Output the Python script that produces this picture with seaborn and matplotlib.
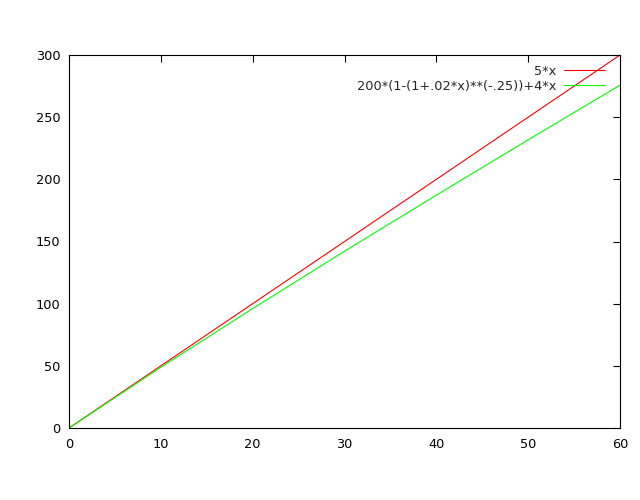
import matplotlib
matplotlib.use('Agg')
import matplotlib.pyplot as plt
import seaborn as sns
import pandas as pd

x_vals = [0, 10, 20, 30, 40, 50, 60]
red_vals = [0, 50, 100, 150, 200, 250, 300]
green_vals = [0, 48.9, 96.1, 142.2, 187.3, 231.8, 275.8]
labels = ['5*x', '200*(1-(1+.02*x)**(-.25))+4*x']
colors = ['#ff0000', '#00ff00']
xticks = [0, 10, 20, 30, 40, 50, 60]
yticks = [0, 50, 100, 150, 200, 250, 300]

sns.set_theme(style='white')
plt.rcParams['font.family'] = ['DejaVu Sans']
plt.rcParams['font.size'] = 9.3

df = pd.DataFrame({
    'x': x_vals + x_vals,
    'y': red_vals + green_vals,
    'f': [labels[0]] * len(x_vals) + [labels[1]] * len(x_vals),
})

fig = plt.figure(figsize=(6.4, 5.0), dpi=100)
ax = fig.add_axes([69 / 640, 72 / 500, 551 / 640, 373 / 500])
sns.lineplot(data=df, x='x', y='y', hue='f', palette=colors, lw=0.8, ax=ax, legend=True)

ax.set_xlim(0, 60)
ax.set_ylim(0, 300)
ax.set_xticks(xticks)
ax.set_yticks(yticks)
ax.set_xlabel('')
ax.set_ylabel('')
for s in ax.spines.values():
    s.set_visible(True)
    s.set_color('black')
    s.set_linewidth(0.8)
ax.tick_params(direction='in', length=5, width=0.8, top=True, right=True,
               colors='black', labelsize=9.3)
ax.tick_params(axis='x', pad=7)
ax.tick_params(axis='y', pad=6)

leg = ax.legend(loc='upper right', frameon=False, markerfirst=False,
                handlelength=3.2, handletextpad=0.6, labelspacing=0.18,
                borderpad=0, borderaxespad=0,
                bbox_to_anchor=(0.9728, 0.9745), fontsize=9.3)
leg._legend_handle_box.get_children()[0].align = 'right'

fig.savefig('out.png', dpi=100)
